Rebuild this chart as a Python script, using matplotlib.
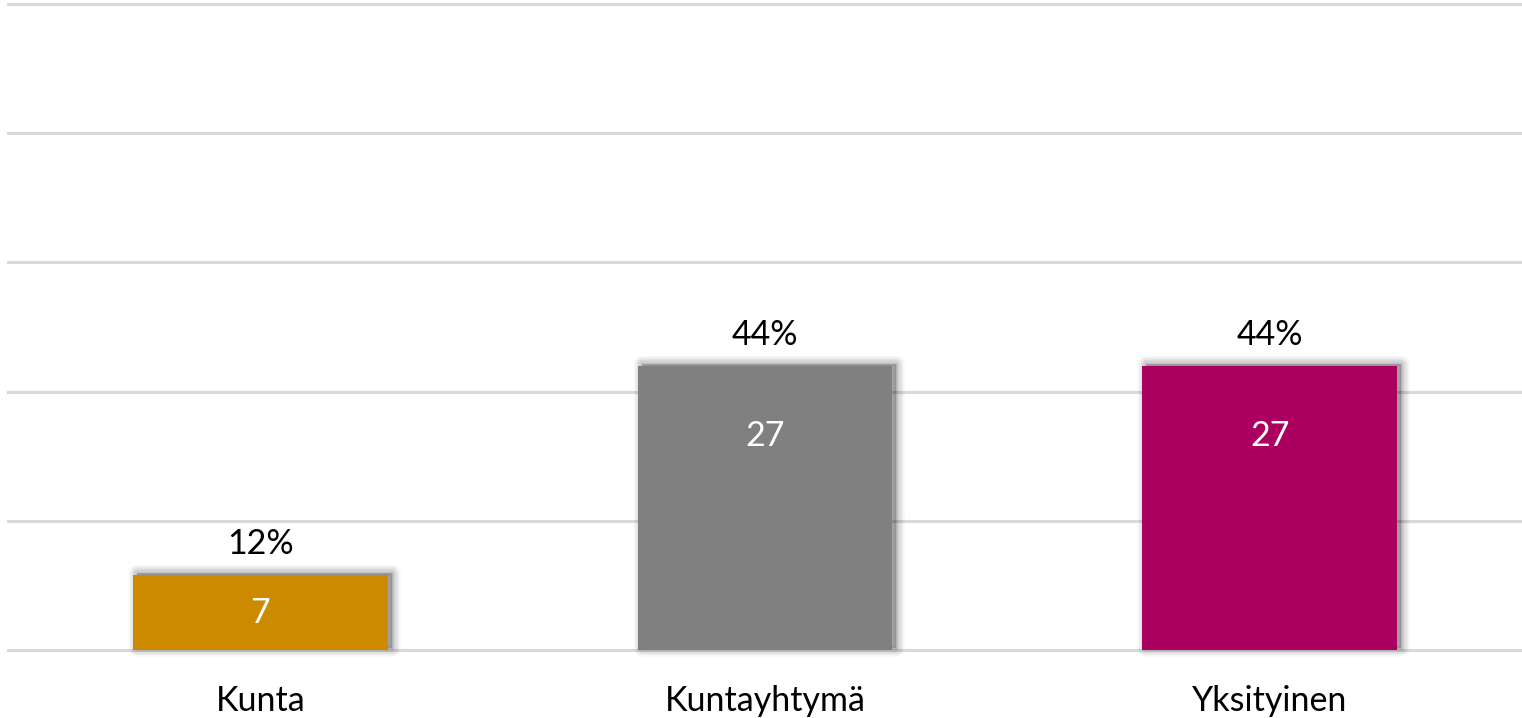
import matplotlib
matplotlib.use("Agg")
import matplotlib.pyplot as plt
from matplotlib.patches import Rectangle
from matplotlib import transforms

categories = ["Kunta", "Kuntayhtymä", "Yksityinen"]
counts = [7, 27, 27]
shares = [11.6, 44.0, 44.0]          # bar heights, % of total
share_labels = ["12%", "44%", "44%"]
colors = ["#CC8A00", "#808080", "#AC0060"]
yticks = [0, 20, 40, 60, 80, 100]

plt.rcParams['font.family'] = ['Lato', 'DejaVu Sans']

W, H, DPI = 1522, 718, 100
fig = plt.figure(figsize=(W / DPI, H / DPI), dpi=DPI)
ax = fig.add_axes([8 / W, 1 - 650 / H, 1 - 8 / W, (650 - 4) / H])
ax.set_xlim(-0.5, len(categories) - 0.5)
ax.set_ylim(0, 100)
for s in ax.spines.values():
    s.set_visible(False)
ax.set_yticks(yticks)
ax.tick_params(left=False, labelleft=False, bottom=False)
ax.yaxis.grid(True, color="#D9D9D9", linewidth=2.2)
for gl in ax.get_ygridlines():
    gl.set_clip_on(False)
ax.set_axisbelow(True)
ax.set_xticks(range(len(categories)))
ax.set_xticklabels(categories, fontsize=24.5)
ax.tick_params(axis='x', pad=22)

width = 0.505
xs = list(range(len(categories)))

# soft shadow, offset up/right
shadow_tr = transforms.offset_copy(ax.transData, fig=fig, x=4, y=2, units='dots')
for x, h in zip(xs, shares):
    for lw, a in [(12, 0.03), (10, 0.035), (8, 0.04), (6, 0.045), (4, 0.05), (2, 0.06)]:
        r = Rectangle((x - width / 2, 0), width, h, transform=shadow_tr,
                      facecolor='black', edgecolor='black', linewidth=lw,
                      alpha=a, joinstyle='round', zorder=2, clip_on=False)
        ax.add_patch(r)

bars = ax.bar(xs, shares, width=width, color=colors, zorder=3)

px2pt = 72 / DPI
for x, h, c, lab in zip(xs, shares, counts, share_labels):
    ax.annotate(lab, (x, h), xytext=(0, 31 * px2pt), textcoords='offset points',
                ha='center', va='center', fontsize=24.5, color='black', zorder=5)
    # count label inside bar near top
    hpx = ax.transData.transform((0, h))[1] - ax.transData.transform((0, 0))[1]
    off = min(70, hpx / 2)
    ax.annotate(str(c), (x, h), xytext=(0, -off * px2pt), textcoords='offset points',
                ha='center', va='center', fontsize=24.5, color='white', zorder=5)

fig.savefig("out.png", dpi=DPI, facecolor='white')
